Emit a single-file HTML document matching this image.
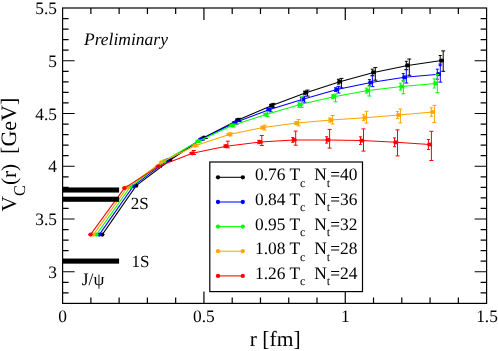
<!DOCTYPE html>
<html><head><meta charset="utf-8"><title>V_C(r)</title>
<style>html,body{margin:0;padding:0;background:#fff;}body{width:498px;height:351px;overflow:hidden;}svg{display:block;will-change:transform;}text{text-rendering:geometricPrecision;font-family:"Liberation Serif",serif;fill:#000;}</style></head><body>
<svg width="498" height="351" viewBox="0 0 498 351">
<rect x="0" y="0" width="498" height="351" fill="#fff"/>
<path d="M90.87 303.4 v-6 M90.87 8.0 v6 M119.13 303.4 v-6 M119.13 8.0 v6 M147.40 303.4 v-6 M147.40 8.0 v6 M175.67 303.4 v-6 M175.67 8.0 v6 M203.93 303.4 v-12 M203.93 8.0 v12 M232.20 303.4 v-6 M232.20 8.0 v6 M260.47 303.4 v-6 M260.47 8.0 v6 M288.73 303.4 v-6 M288.73 8.0 v6 M317.00 303.4 v-6 M317.00 8.0 v6 M345.27 303.4 v-12 M345.27 8.0 v12 M373.53 303.4 v-6 M373.53 8.0 v6 M401.80 303.4 v-6 M401.80 8.0 v6 M430.07 303.4 v-6 M430.07 8.0 v6 M458.33 303.4 v-6 M458.33 8.0 v6 M62.6 292.85 h6 M486.6 292.85 h-6 M62.6 282.30 h6 M486.6 282.30 h-6 M62.6 271.75 h12 M486.6 271.75 h-12 M62.6 261.20 h6 M486.6 261.20 h-6 M62.6 250.65 h6 M486.6 250.65 h-6 M62.6 240.10 h6 M486.6 240.10 h-6 M62.6 229.55 h6 M486.6 229.55 h-6 M62.6 219.00 h12 M486.6 219.00 h-12 M62.6 208.45 h6 M486.6 208.45 h-6 M62.6 197.90 h6 M486.6 197.90 h-6 M62.6 187.35 h6 M486.6 187.35 h-6 M62.6 176.80 h6 M486.6 176.80 h-6 M62.6 166.25 h12 M486.6 166.25 h-12 M62.6 155.70 h6 M486.6 155.70 h-6 M62.6 145.15 h6 M486.6 145.15 h-6 M62.6 134.60 h6 M486.6 134.60 h-6 M62.6 124.05 h6 M486.6 124.05 h-6 M62.6 113.50 h12 M486.6 113.50 h-12 M62.6 102.95 h6 M486.6 102.95 h-6 M62.6 92.40 h6 M486.6 92.40 h-6 M62.6 81.85 h6 M486.6 81.85 h-6 M62.6 71.30 h6 M486.6 71.30 h-6 M62.6 60.75 h12 M486.6 60.75 h-12 M62.6 50.20 h6 M486.6 50.20 h-6 M62.6 39.65 h6 M486.6 39.65 h-6 M62.6 29.10 h6 M486.6 29.10 h-6 M62.6 18.55 h6 M486.6 18.55 h-6" stroke="#000" stroke-width="1.2" fill="none"/>
<g stroke="#000000" fill="#000000">
<path d="M102.3 234.6 L136.2 185.7 L170.2 160.0 L204.1 137.5 L238.0 119.9 L271.9 105.4 L305.9 92.7 L339.8 81.7 L373.7 72.4 L407.7 65.4 L441.6 60.6" fill="none" stroke-width="1.05"/>
<path d="M100.0 234.6h4.3 M133.9 185.7h4.3 M167.9 160.0h4.3 M202.7 137.0V138.0M201.2 137.0h3M201.2 138.0h3 M205.7 136.5V138.5M203.7 136.5h4M203.7 138.5h4 M201.8 137.5h4.3 M236.6 119.2V120.7M235.1 119.2h3M235.1 120.7h3 M239.6 118.4V121.4M237.6 118.4h4M237.6 121.4h4 M235.7 119.9h4.3 M236.2 118.3v3.2M239.8 118.3v3.2 M270.6 104.4V106.4M269.1 104.4h3M269.1 106.4h3 M273.6 103.4V107.4M271.6 103.4h4M271.6 107.4h4 M269.6 105.4h4.3 M270.1 103.8v3.2M273.8 103.8v3.2 M304.5 91.2V94.2M303.0 91.2h3M303.0 94.2h3 M307.5 90.1V96.1M305.5 90.1h4M305.5 96.1h4 M303.6 92.7h4.3 M304.1 91.1v3.2M307.7 91.1v3.2 M338.4 79.3V84.1M336.9 79.3h3M336.9 84.1h3 M341.4 78.4V87.9M339.4 78.4h4M339.4 87.9h4 M337.5 81.7h4.3 M338.0 80.1v3.2M341.6 80.1v3.2 M372.3 69.2V75.6M370.8 69.2h3M370.8 75.6h3 M375.3 67.6V80.2M373.3 67.6h4M373.3 80.2h4 M371.4 72.4h4.3 M371.9 70.8v3.2M375.5 70.8v3.2 M406.3 61.3V69.5M404.8 61.3h3M404.8 69.5h3 M409.3 59.0V75.3M407.3 59.0h4M407.3 75.3h4 M405.4 65.4h4.3 M405.9 63.8v3.2M409.5 63.8v3.2 M440.2 55.5V65.7M438.7 55.5h3M438.7 65.7h3 M443.2 50.9V71.3M441.2 50.9h4M441.2 71.3h4 M439.3 60.6h4.3 M439.8 59.0v3.2M443.4 59.0v3.2" fill="none" stroke-width="1"/>
<circle cx="102.3" cy="234.6" r="2.1" stroke="none"/>
<circle cx="136.2" cy="185.7" r="2.1" stroke="none"/>
<circle cx="170.2" cy="160.0" r="2.1" stroke="none"/>
<circle cx="204.1" cy="137.5" r="2.1" stroke="none"/>
<circle cx="238.0" cy="119.9" r="2.1" stroke="none"/>
<circle cx="271.9" cy="105.4" r="2.1" stroke="none"/>
<circle cx="305.9" cy="92.7" r="2.1" stroke="none"/>
<circle cx="339.8" cy="81.7" r="2.1" stroke="none"/>
<circle cx="373.7" cy="72.4" r="2.1" stroke="none"/>
<circle cx="407.7" cy="65.4" r="2.1" stroke="none"/>
<circle cx="441.6" cy="60.6" r="2.1" stroke="none"/>
</g>
<g stroke="#0000ff" fill="#0000ff">
<path d="M99.3 234.6 L133.3 186.2 L167.2 160.4 L201.1 139.2 L235.1 122.6 L269.0 109.8 L302.9 99.2 L336.9 89.6 L370.8 82.6 L404.7 77.3 L438.7 74.2" fill="none" stroke-width="1.05"/>
<path d="M97.0 234.6h4.3 M131.0 186.2h4.3 M164.9 160.4h4.3 M199.7 138.6V139.8M198.2 138.6h3M198.2 139.8h3 M202.7 138.2V140.2M200.7 138.2h4M200.7 140.2h4 M198.8 139.2h4.3 M233.7 121.8V123.4M232.2 121.8h3M232.2 123.4h3 M236.7 121.1V124.1M234.7 121.1h4M234.7 124.1h4 M232.8 122.6h4.3 M233.3 121.0v3.2M236.9 121.0v3.2 M267.6 108.7V110.9M266.1 108.7h3M266.1 110.9h3 M270.6 107.8V111.8M268.6 107.8h4M268.6 111.8h4 M266.7 109.8h4.3 M267.2 108.2v3.2M270.8 108.2v3.2 M301.5 97.5V100.9M300.0 97.5h3M300.0 100.9h3 M304.5 96.2V102.2M302.5 96.2h4M302.5 102.2h4 M300.6 99.2h4.3 M301.1 97.6v3.2M304.7 97.6v3.2 M335.5 87.8V91.4M334.0 87.8h3M334.0 91.4h3 M338.5 86.4V93.0M336.5 86.4h4M336.5 93.0h4 M334.6 89.6h4.3 M335.1 88.0v3.2M338.7 88.0v3.2 M369.4 79.6V85.6M367.9 79.6h3M367.9 85.6h3 M372.4 75.8V86.6M370.4 75.8h4M370.4 86.6h4 M368.5 82.6h4.3 M369.0 81.0v3.2M372.6 81.0v3.2 M403.3 73.6V81.0M401.8 73.6h3M401.8 81.0h3 M406.3 69.7V83.0M404.3 69.7h4M404.3 83.0h4 M402.4 77.3h4.3 M402.9 75.7v3.2M406.5 75.7v3.2 M437.3 69.2V79.2M435.8 69.2h3M435.8 79.2h3 M440.3 64.1V82.1M438.3 64.1h4M438.3 82.1h4 M436.4 74.2h4.3 M436.9 72.6v3.2M440.5 72.6v3.2" fill="none" stroke-width="1"/>
<circle cx="99.3" cy="234.6" r="2.1" stroke="none"/>
<circle cx="133.3" cy="186.2" r="2.1" stroke="none"/>
<circle cx="167.2" cy="160.4" r="2.1" stroke="none"/>
<circle cx="201.1" cy="139.2" r="2.1" stroke="none"/>
<circle cx="235.1" cy="122.6" r="2.1" stroke="none"/>
<circle cx="269.0" cy="109.8" r="2.1" stroke="none"/>
<circle cx="302.9" cy="99.2" r="2.1" stroke="none"/>
<circle cx="336.9" cy="89.6" r="2.1" stroke="none"/>
<circle cx="370.8" cy="82.6" r="2.1" stroke="none"/>
<circle cx="404.7" cy="77.3" r="2.1" stroke="none"/>
<circle cx="438.7" cy="74.2" r="2.1" stroke="none"/>
</g>
<g stroke="#00ff00" fill="#00ff00">
<path d="M96.4 234.6 L130.3 186.8 L164.3 161.0 L198.2 141.2 L232.1 125.5 L266.0 114.6 L300.0 104.6 L333.9 96.7 L367.8 90.6 L401.8 86.6 L435.7 83.4" fill="none" stroke-width="1.05"/>
<path d="M94.1 234.6h4.3 M128.0 186.8h4.3 M162.0 161.0h4.3 M196.8 140.7V141.7M195.3 140.7h3M195.3 141.7h3 M199.8 140.2V142.2M197.8 140.2h4M197.8 142.2h4 M195.9 141.2h4.3 M230.7 124.8V126.2M229.2 124.8h3M229.2 126.2h3 M233.7 124.0V127.0M231.7 124.0h4M231.7 127.0h4 M229.8 125.5h4.3 M230.3 123.9v3.2M233.9 123.9v3.2 M264.6 113.3V115.8M263.1 113.3h3M263.1 115.8h3 M267.6 111.6V116.6M265.6 111.6h4M265.6 116.6h4 M263.7 114.6h4.3 M264.2 113.0v3.2M267.8 113.0v3.2 M298.6 101.9V107.2M297.1 101.9h3M297.1 107.2h3 M301.6 96.9V107.5M299.6 96.9h4M299.6 107.5h4 M297.7 104.6h4.3 M298.2 103.0v3.2M301.8 103.0v3.2 M332.5 94.8V98.6M331.0 94.8h3M331.0 98.6h3 M335.5 94.1V101.8M333.5 94.1h4M333.5 101.8h4 M331.6 96.7h4.3 M332.1 95.1v3.2M335.7 95.1v3.2 M366.4 88.1V93.1M364.9 88.1h3M364.9 93.1h3 M369.4 86.0V96.0M367.4 86.0h4M367.4 96.0h4 M365.5 90.6h4.3 M366.0 89.0v3.2M369.6 89.0v3.2 M400.4 83.2V90.0M398.9 83.2h3M398.9 90.0h3 M403.4 80.2V93.8M401.4 80.2h4M401.4 93.8h4 M399.5 86.6h4.3 M400.0 85.0v3.2M403.6 85.0v3.2 M434.3 78.9V88.0M432.8 78.9h3M432.8 88.0h3 M437.3 74.5V92.7M435.3 74.5h4M435.3 92.7h4 M433.4 83.4h4.3 M433.9 81.8v3.2M437.5 81.8v3.2" fill="none" stroke-width="1"/>
<circle cx="96.4" cy="234.6" r="2.1" stroke="none"/>
<circle cx="130.3" cy="186.8" r="2.1" stroke="none"/>
<circle cx="164.3" cy="161.0" r="2.1" stroke="none"/>
<circle cx="198.2" cy="141.2" r="2.1" stroke="none"/>
<circle cx="232.1" cy="125.5" r="2.1" stroke="none"/>
<circle cx="266.0" cy="114.6" r="2.1" stroke="none"/>
<circle cx="300.0" cy="104.6" r="2.1" stroke="none"/>
<circle cx="333.9" cy="96.7" r="2.1" stroke="none"/>
<circle cx="367.8" cy="90.6" r="2.1" stroke="none"/>
<circle cx="401.8" cy="86.6" r="2.1" stroke="none"/>
<circle cx="435.7" cy="83.4" r="2.1" stroke="none"/>
</g>
<g stroke="#ffa500" fill="#ffa500">
<path d="M93.5 234.6 L127.4 187.4 L161.3 162.3 L195.2 145.7 L229.2 134.4 L263.1 127.6 L297.0 123.1 L331.0 120.1 L364.9 117.7 L398.8 115.0 L432.8 112.0" fill="none" stroke-width="1.05"/>
<path d="M91.2 234.6h4.3 M125.1 187.4h4.3 M159.0 162.3h4.3 M193.8 145.2V146.2M192.3 145.2h3M192.3 146.2h3 M196.8 144.7V146.7M194.8 144.7h4M194.8 146.7h4 M192.9 145.7h4.3 M227.8 133.7V135.2M226.3 133.7h3M226.3 135.2h3 M230.8 132.9V135.9M228.8 132.9h4M228.8 135.9h4 M226.9 134.4h4.3 M227.4 132.8v3.2M231.0 132.8v3.2 M261.7 126.3V128.8M260.2 126.3h3M260.2 128.8h3 M264.7 125.1V130.1M262.7 125.1h4M262.7 130.1h4 M260.8 127.6h4.3 M261.3 126.0v3.2M264.9 126.0v3.2 M295.6 121.5V124.7M294.1 121.5h3M294.1 124.7h3 M298.6 119.5V125.8M296.6 119.5h4M296.6 125.8h4 M294.7 123.1h4.3 M295.2 121.5v3.2M298.8 121.5v3.2 M329.6 118.0V122.2M328.1 118.0h3M328.1 122.2h3 M332.6 115.5V124.0M330.6 115.5h4M330.6 124.0h4 M328.7 120.1h4.3 M329.2 118.5v3.2M332.8 118.5v3.2 M363.5 114.7V120.6M362.0 114.7h3M362.0 120.6h3 M366.5 111.3V123.1M364.5 111.3h4M364.5 123.1h4 M362.6 117.7h4.3 M363.1 116.1v3.2M366.7 116.1v3.2 M397.4 111.5V118.5M395.9 111.5h3M395.9 118.5h3 M400.4 109.0V122.9M398.4 109.0h4M398.4 122.9h4 M396.5 115.0h4.3 M397.0 113.4v3.2M400.6 113.4v3.2 M431.4 107.7V116.3M429.9 107.7h3M429.9 116.3h3 M434.4 105.4V122.5M432.4 105.4h4M432.4 122.5h4 M430.4 112.0h4.3 M430.9 110.4v3.2M434.6 110.4v3.2" fill="none" stroke-width="1"/>
<circle cx="93.5" cy="234.6" r="2.1" stroke="none"/>
<circle cx="127.4" cy="187.4" r="2.1" stroke="none"/>
<circle cx="161.3" cy="162.3" r="2.1" stroke="none"/>
<circle cx="195.2" cy="145.7" r="2.1" stroke="none"/>
<circle cx="229.2" cy="134.4" r="2.1" stroke="none"/>
<circle cx="263.1" cy="127.6" r="2.1" stroke="none"/>
<circle cx="297.0" cy="123.1" r="2.1" stroke="none"/>
<circle cx="331.0" cy="120.1" r="2.1" stroke="none"/>
<circle cx="364.9" cy="117.7" r="2.1" stroke="none"/>
<circle cx="398.8" cy="115.0" r="2.1" stroke="none"/>
<circle cx="432.8" cy="112.0" r="2.1" stroke="none"/>
</g>
<g stroke="#ff0000" fill="#ff0000">
<path d="M90.5 234.6 L124.4 188.1 L158.4 166.4 L192.3 153.3 L226.2 146.2 L260.1 142.0 L294.1 139.9 L328.0 139.9 L361.9 140.6 L395.9 142.3 L429.8 144.5" fill="none" stroke-width="1.05"/>
<path d="M88.2 234.6h4.3 M122.1 188.1h4.3 M157.0 166.1V166.7M155.5 166.1h3M155.5 166.7h3 M160.0 165.4V167.4M158.0 165.4h4M158.0 167.4h4 M156.1 166.4h4.3 M190.9 152.6V154.0M189.4 152.6h3M189.4 154.0h3 M193.9 150.5V154.5M191.9 150.5h4M191.9 154.5h4 M190.0 153.3h4.3 M224.8 145.1V147.3M223.3 145.1h3M223.3 147.3h3 M227.8 141.2V147.8M225.8 141.2h4M225.8 147.8h4 M223.9 146.2h4.3 M224.4 144.6v3.2M228.0 144.6v3.2 M258.8 140.3V143.7M257.2 140.3h3M257.2 143.7h3 M261.8 135.5V145.5M259.8 135.5h4M259.8 145.5h4 M257.8 142.0h4.3 M258.3 140.4v3.2M261.9 140.4v3.2 M292.7 137.5V142.3M291.2 137.5h3M291.2 142.3h3 M295.7 131.1V145.2M293.7 131.1h4M293.7 145.2h4 M291.8 139.9h4.3 M292.3 138.3v3.2M295.9 138.3v3.2 M326.6 136.7V143.1M325.1 136.7h3M325.1 143.1h3 M329.6 129.4V148.1M327.6 129.4h4M327.6 148.1h4 M325.7 139.9h4.3 M326.2 138.3v3.2M329.8 138.3v3.2 M360.5 136.8V144.4M359.0 136.8h3M359.0 144.4h3 M363.5 128.9V151.1M361.5 128.9h4M361.5 151.1h4 M359.6 140.6h4.3 M360.1 139.0v3.2M363.7 139.0v3.2 M394.5 137.9V146.7M393.0 137.9h3M393.0 146.7h3 M397.5 129.9V155.9M395.5 129.9h4M395.5 155.9h4 M393.6 142.3h4.3 M394.1 140.7v3.2M397.7 140.7v3.2 M428.4 139.5V149.5M426.9 139.5h3M426.9 149.5h3 M431.4 131.3V160.5M429.4 131.3h4M429.4 160.5h4 M427.5 144.5h4.3 M428.0 142.9v3.2M431.6 142.9v3.2" fill="none" stroke-width="1"/>
<circle cx="90.5" cy="234.6" r="2.1" stroke="none"/>
<circle cx="124.4" cy="188.1" r="2.1" stroke="none"/>
<circle cx="158.4" cy="166.4" r="2.1" stroke="none"/>
<circle cx="192.3" cy="153.3" r="2.1" stroke="none"/>
<circle cx="226.2" cy="146.2" r="2.1" stroke="none"/>
<circle cx="260.1" cy="142.0" r="2.1" stroke="none"/>
<circle cx="294.1" cy="139.9" r="2.1" stroke="none"/>
<circle cx="328.0" cy="139.9" r="2.1" stroke="none"/>
<circle cx="361.9" cy="140.6" r="2.1" stroke="none"/>
<circle cx="395.9" cy="142.3" r="2.1" stroke="none"/>
<circle cx="429.8" cy="144.5" r="2.1" stroke="none"/>
</g>
<rect x="62.60" y="187.45" width="56.50" height="5.1" fill="#000"/>
<rect x="62.60" y="196.70" width="56.50" height="5.1" fill="#000"/>
<rect x="62.60" y="258.55" width="56.50" height="5.1" fill="#000"/>
<rect x="62.6" y="8.0" width="424.00" height="295.40" fill="none" stroke="#000" stroke-width="1.2"/>
<rect x="209.8" y="162" width="152.7" height="129.6" fill="#fff" stroke="#000" stroke-width="1.2"/>
<path d="M218 177.3H242.8" stroke="#000000" stroke-width="1.05"/>
<circle cx="218" cy="177.3" r="2.15" fill="#000000"/><circle cx="242.8" cy="177.3" r="2.15" fill="#000000"/>
<text x="255.0" y="180.3" font-size="17.4" xml:space="preserve">0.76 T<tspan font-size="12.2" dy="6.4">c</tspan><tspan dy="-6.4">  N</tspan><tspan font-size="12.2" dy="6.4">t</tspan><tspan dy="-6.4">=40</tspan></text>
<path d="M218 202.0H242.8" stroke="#0000ff" stroke-width="1.05"/>
<circle cx="218" cy="202.0" r="2.15" fill="#0000ff"/><circle cx="242.8" cy="202.0" r="2.15" fill="#0000ff"/>
<text x="255.0" y="205.0" font-size="17.4" xml:space="preserve">0.84 T<tspan font-size="12.2" dy="6.4">c</tspan><tspan dy="-6.4">  N</tspan><tspan font-size="12.2" dy="6.4">t</tspan><tspan dy="-6.4">=36</tspan></text>
<path d="M218 226.6H242.8" stroke="#00ff00" stroke-width="1.05"/>
<circle cx="218" cy="226.6" r="2.15" fill="#00ff00"/><circle cx="242.8" cy="226.6" r="2.15" fill="#00ff00"/>
<text x="255.0" y="229.6" font-size="17.4" xml:space="preserve">0.95 T<tspan font-size="12.2" dy="6.4">c</tspan><tspan dy="-6.4">  N</tspan><tspan font-size="12.2" dy="6.4">t</tspan><tspan dy="-6.4">=32</tspan></text>
<path d="M218 251.2H242.8" stroke="#ffa500" stroke-width="1.05"/>
<circle cx="218" cy="251.2" r="2.15" fill="#ffa500"/><circle cx="242.8" cy="251.2" r="2.15" fill="#ffa500"/>
<text x="255.0" y="254.2" font-size="17.4" xml:space="preserve">1.08 T<tspan font-size="12.2" dy="6.4">c</tspan><tspan dy="-6.4">  N</tspan><tspan font-size="12.2" dy="6.4">t</tspan><tspan dy="-6.4">=28</tspan></text>
<path d="M218 275.9H242.8" stroke="#ff0000" stroke-width="1.05"/>
<circle cx="218" cy="275.9" r="2.15" fill="#ff0000"/><circle cx="242.8" cy="275.9" r="2.15" fill="#ff0000"/>
<text x="255.0" y="278.9" font-size="17.4" xml:space="preserve">1.26 T<tspan font-size="12.2" dy="6.4">c</tspan><tspan dy="-6.4">  N</tspan><tspan font-size="12.2" dy="6.4">t</tspan><tspan dy="-6.4">=24</tspan></text>
<text x="57.0" y="14.0" font-size="17.4" text-anchor="end">5.5</text>
<text x="57.0" y="66.8" font-size="17.4" text-anchor="end">5</text>
<text x="57.0" y="119.5" font-size="17.4" text-anchor="end">4.5</text>
<text x="57.0" y="172.2" font-size="17.4" text-anchor="end">4</text>
<text x="57.0" y="225.0" font-size="17.4" text-anchor="end">3.5</text>
<text x="57.0" y="277.8" font-size="17.4" text-anchor="end">3</text>
<text x="62.6" y="321.5" font-size="17.4" text-anchor="middle">0</text>
<text x="203.9" y="321.5" font-size="17.4" text-anchor="middle">0.5</text>
<text x="345.3" y="321.5" font-size="17.4" text-anchor="middle">1</text>
<text x="487.0" y="321.5" font-size="17.4" text-anchor="middle">1.5</text>
<text x="84" y="45.1" font-size="17.5" font-style="italic">Preliminary</text>
<text x="130.8" y="208.9" font-size="17">2S</text>
<text x="131.6" y="266.5" font-size="17">1S</text>
<text x="81.8" y="284.7" font-size="17.4">J/ψ</text>
<text x="275.2" y="345.9" font-size="21.5" text-anchor="middle">r [fm]</text>
<text transform="translate(16.2,211.4) rotate(-90)" font-size="21.3" xml:space="preserve">V<tspan font-size="16.4" dy="9">C</tspan><tspan dy="-9">(r)  </tspan><tspan font-size="22" dx="-0.8">[GeV]</tspan></text>
</svg></body></html>
